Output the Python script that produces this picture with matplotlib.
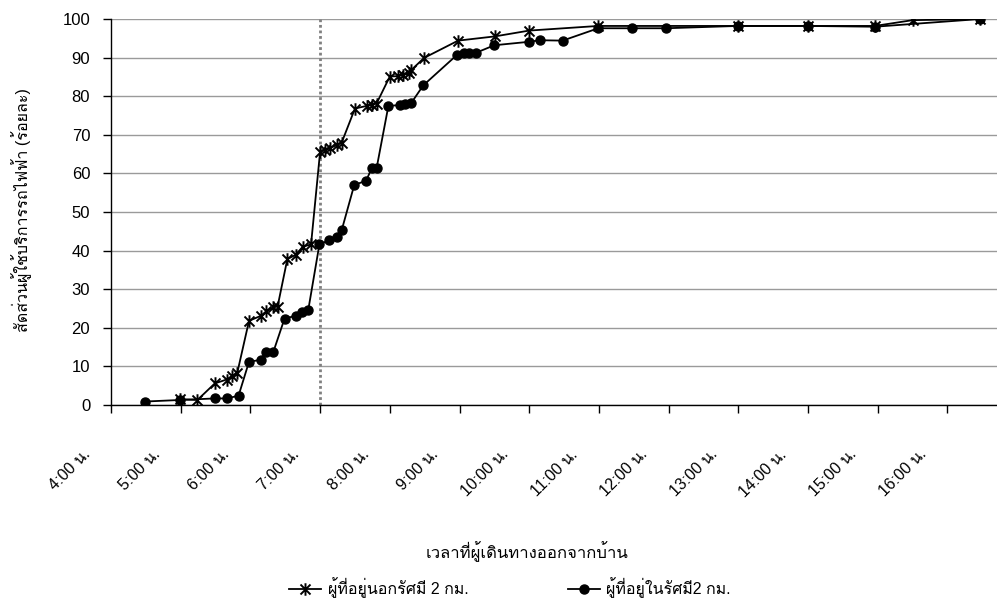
import matplotlib
matplotlib.use('Agg')
import matplotlib.pyplot as plt
import matplotlib.font_manager as fm
from matplotlib.ft2font import FT2Font
from matplotlib.path import Path
from matplotlib.lines import Line2D
from matplotlib.transforms import ScaledTranslation


def font_with(ch):
    """첫 번째로 해당 문자를 가진 설치 폰트 이름."""
    for f in fm.fontManager.ttflist:
        try:
            if ord(ch) in FT2Font(f.fname).get_charmap():
                return f.name
        except Exception:
            continue
    return None


THAI = font_with('ก')
FAMILY = ['Liberation Sans'] + ([THAI] if THAI else []) + ['DejaVu Sans']
plt.rcParams['font.family'] = FAMILY

# ── 데이터 (시각: 시간 단위, 값: 누적 비율 %) ─────────────────
out_hours = [4.99, 5.24, 5.49, 5.66, 5.74, 5.81, 5.98, 6.15, 6.23, 6.33, 6.39,
             6.53, 6.65, 6.75, 6.87, 7.00, 7.07, 7.14, 7.24, 7.31, 7.50, 7.67,
             7.74, 7.81, 8.00, 8.12, 8.19, 8.27, 8.31, 8.49, 8.98, 9.51, 10.00,
             10.99, 12.99, 14.00, 14.96, 15.50, 16.47]
out_pct = [1.5, 1.3, 5.6, 6.6, 7.6, 8.2, 21.8, 23.1, 24.3, 25.3, 25.5,
           37.8, 38.9, 41.0, 41.6, 65.6, 66.1, 66.5, 67.4, 68.0, 76.8, 77.5,
           77.7, 78.1, 85.1, 85.2, 85.5, 85.9, 86.8, 89.9, 94.4, 95.5, 97.0,
           98.2, 98.2, 98.2, 98.2, 99.7, 100.0]

in_hours = [4.49, 4.99, 5.49, 5.66, 5.83, 5.98, 6.15, 6.22, 6.33, 6.49, 6.65,
            6.74, 6.83, 6.99, 7.13, 7.24, 7.31, 7.49, 7.66, 7.74, 7.81, 7.98,
            8.15, 8.22, 8.31, 8.48, 8.97, 9.06, 9.14, 9.23, 9.50, 10.00, 10.15,
            10.48, 10.99, 11.48, 11.96, 12.99, 14.00, 14.96, 16.47]
in_pct = [0.9, 1.3, 1.7, 1.7, 2.4, 11.2, 11.7, 13.8, 13.8, 22.4, 23.1,
          24.2, 24.6, 41.6, 42.7, 43.4, 45.3, 57.0, 58.1, 61.3, 61.3, 77.5,
          77.7, 78.1, 78.3, 82.8, 90.8, 91.2, 91.2, 91.2, 93.2, 94.1, 94.5,
          94.4, 97.6, 97.6, 97.6, 98.2, 98.2, 98.0, 100.0]

tick_hours = list(range(4, 17))
tick_labels = [f'{h}:00 น.' for h in tick_hours]
ref_hour = 7

label_out = 'ผู้ที่อยู่นอกรัศมี 2 กม.'
label_in = 'ผู้ที่อยู่ในรัศมี2 กม.'
xlabel = 'เวลาที่ผู้เดินทางออกจากบ้าน'
ylabel = 'สัดส่วนผู้ใช้บริการรถไฟฟ้า (ร้อยละ)'

# 엑셀식 별표 마커 (X + 세로선)
star = Path([(-1, -1), (1, 1), (-1, 1), (1, -1), (0, -1.25), (0, 1.25)],
            [Path.MOVETO, Path.LINETO, Path.MOVETO, Path.LINETO, Path.MOVETO, Path.LINETO])

# ── 그림 ────────────────────────────────────────────────
W, H = 997, 610
fig = plt.figure(figsize=(W / 100, H / 100), dpi=100)
ax = fig.add_axes([111 / W, (H - 405) / H, (W - 111) / W, (405 - 19) / H])

ax.set_xlim(4, 4 + (W - 111) / 69.7)
ax.set_ylim(0, 100)
ax.set_yticks(range(0, 101, 10))
ax.grid(axis='y', color='#9a9a9a', lw=1.0)
ax.set_axisbelow(True)
for s in ('top', 'right'):
    ax.spines[s].set_visible(False)
for s in ('left', 'bottom'):
    ax.spines[s].set_color('black')
    ax.spines[s].set_linewidth(1.0)

ax.axvline(ref_hour, color='#808080', ls=(0, (1, 1)), lw=2.0, zorder=1.5)

ax.plot(out_hours, out_pct, color='black', lw=1.3, marker=star, ms=9,
        mew=1.4, mec='black', zorder=3)
ax.plot(in_hours, in_pct, color='black', lw=1.3, marker='o', ms=6.5,
        mfc='black', mec='black', zorder=3)

ax.tick_params(axis='y', direction='out', length=6, width=1, pad=9, labelsize=12)
ax.tick_params(axis='x', direction='out', length=6, width=1, pad=24, labelsize=11.5)
ax.set_xticks(tick_hours)
ax.set_xticklabels(tick_labels, rotation=45, ha='right', va='top')
shift = ScaledTranslation(-18 / 100, 0, fig.dpi_scale_trans)
for lab in ax.get_xticklabels():
    lab.set_transform(lab.get_transform() + shift)

fig.text(527 / W, 1 - 552 / H, xlabel, ha='center', va='center', fontsize=12)
fig.text(22 / W, 1 - 210 / H, ylabel, rotation=90, ha='center', va='center',
         fontsize=11.5)

handles = [
    Line2D([], [], color='black', lw=1.3, marker=star, ms=9, mew=1.4),
    Line2D([], [], color='black', lw=1.3, marker='o', ms=6.5),
]
fig.legend(handles, [label_out, label_in], loc='center',
           bbox_to_anchor=(510 / W, 1 - 588 / H), ncol=2, frameon=False,
           fontsize=11.5, handlelength=2.0, handletextpad=0.4,
           columnspacing=6.2, borderpad=0)

fig.savefig('out.png', dpi=100)
